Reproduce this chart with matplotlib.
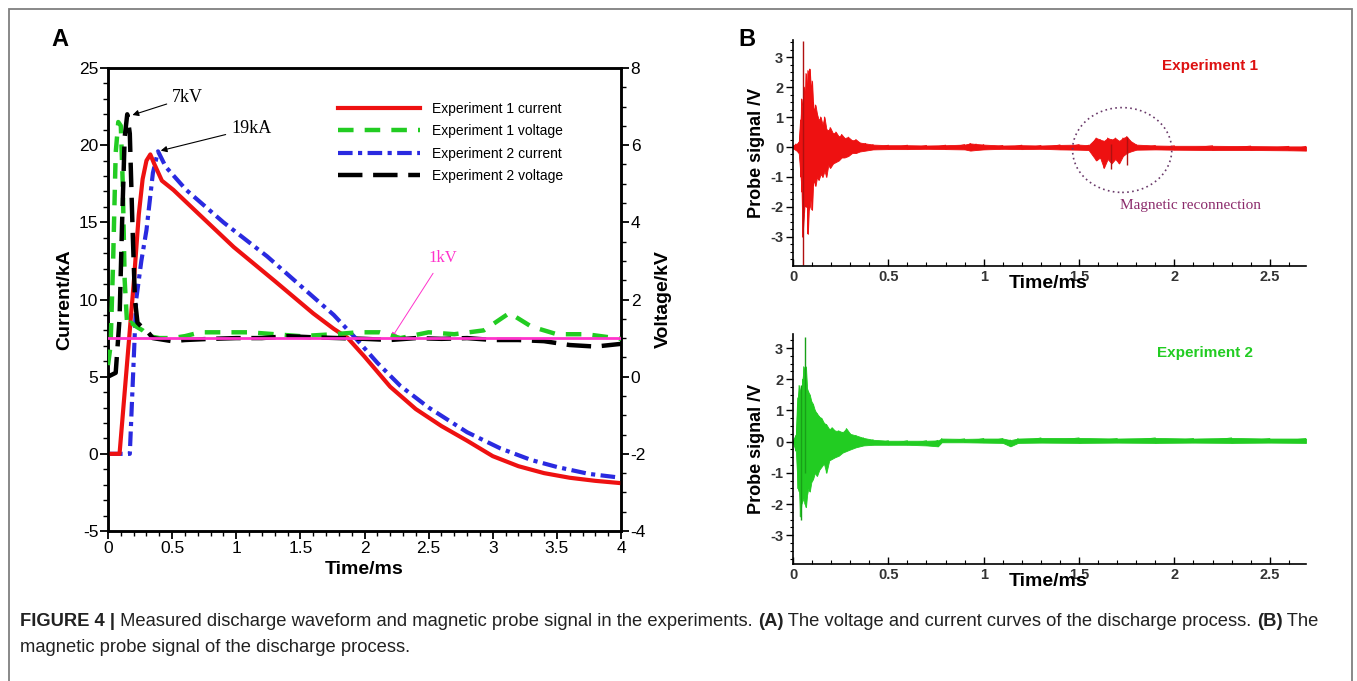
import numpy as np
import matplotlib
matplotlib.use("Agg")
import matplotlib.pyplot as plt
from matplotlib.patches import Ellipse, Rectangle
from matplotlib.ticker import MultipleLocator

plt.rcParams['font.family'] = ['Liberation Sans', 'DejaVu Sans']
plt.rcParams['axes.unicode_minus'] = False

# ---- panel A: discharge current (kA) and voltage (kV) ----
t_cur1 = [0, 0.09, 0.15, 0.2, 0.24, 0.27, 0.3, 0.33, 0.36, 0.42, 0.51, 0.7, 0.98, 1.3, 1.6, 1.76, 1.87,
          2.0, 2.2, 2.4, 2.6, 2.8, 3.0, 3.2, 3.4, 3.6, 3.8, 4.0]
i_cur1 = [0, 0, 6, 11, 15.5, 17.8, 19.0, 19.4, 18.8, 17.7, 17.1, 15.6, 13.4, 11.2, 9.1, 8.1, 7.5,
          6.3, 4.35, 2.9, 1.8, 0.85, -0.15, -0.8, -1.25, -1.55, -1.75, -1.9]

t_cur2 = [0, 0.17, 0.22, 0.26, 0.3, 0.35, 0.39, 0.45, 0.61, 0.9, 1.24, 1.5, 1.76, 1.93, 2.1, 2.28,
          2.5, 2.8, 3.06, 3.3, 3.5, 3.75, 4.0]
i_cur2 = [0, 0, 10, 12.5, 14.5, 18.2, 19.6, 18.6, 17.1, 15.0, 12.8, 10.9, 9.0, 7.5, 5.9, 4.4,
          3.0, 1.4, 0.35, -0.4, -0.85, -1.3, -1.55]

t_volt1 = [0, 0.02, 0.04, 0.06, 0.08, 0.1, 0.115, 0.13, 0.15, 0.18, 0.22, 0.27, 0.32, 0.4, 0.5, 0.6,
           0.72, 0.9, 1.1, 1.3, 1.5, 1.76, 1.95, 2.12, 2.28, 2.5, 2.7, 2.93, 3.13, 3.3, 3.5, 3.73, 4.0]
v_volt1 = [0.3, 0.8, 3.0, 5.8, 6.6, 6.5, 5.0, 2.5, 1.3, 1.4, 1.3, 1.2, 1.05, 1.0, 1.0, 1.05,
           1.15, 1.15, 1.15, 1.1, 1.05, 1.1, 1.15, 1.15, 1.0, 1.15, 1.1, 1.2, 1.65, 1.3, 1.1, 1.1, 0.98]

t_volt2 = [0, 0.06, 0.09, 0.11, 0.13, 0.15, 0.17, 0.19, 0.21, 0.23, 0.26, 0.3, 0.35, 0.5, 0.6, 0.8,
           1.0, 1.2, 1.4, 1.6, 1.8, 2.0, 2.2, 2.4, 2.6, 2.8, 3.0, 3.2, 3.4, 3.6, 3.8, 4.0]
v_volt2 = [0.0, 0.1, 1.5, 4.0, 6.2, 6.8, 6.3, 4.0, 2.0, 1.4, 1.3, 1.2, 1.0, 0.92, 0.95, 0.98,
           1.0, 1.0, 1.05, 1.02, 1.0, 0.98, 0.95, 1.0, 0.98, 1.0, 0.95, 0.95, 0.92, 0.82, 0.78, 0.85]

ref_kv = 1.0
labels_A = ["Experiment 1 current", "Experiment 1 voltage", "Experiment 2 current", "Experiment 2 voltage"]

# ---- panel B: magnetic probe signal envelopes (V) ----
t_env1 = [0, 0.015, 0.03, 0.04, 0.045, 0.05, 0.058, 0.062, 0.068, 0.072, 0.078, 0.083, 0.088, 0.094,
          0.1, 0.105, 0.11, 0.118, 0.126, 0.135, 0.145, 0.155, 0.165, 0.175, 0.185, 0.195, 0.21, 0.225,
          0.24, 0.255, 0.27, 0.29, 0.31, 0.33, 0.35, 0.38, 0.42, 0.5, 0.6, 0.7, 0.8, 0.9, 0.93, 0.96,
          1.0, 1.1, 1.2, 1.3, 1.4, 1.5, 1.55, 1.59, 1.61, 1.63, 1.65, 1.67, 1.69, 1.71, 1.73, 1.75,
          1.77, 1.8, 1.9, 2.0, 2.2, 2.4, 2.6, 2.69]
up1 = [0.05, 0.1, 0.15, 0.9, 1.6, 1.3, 2.0, 1.6, 2.45, 1.8, 2.55, 2.0, 2.6, 1.9,
       2.2, 1.5, 1.2, 1.4, 1.1, 0.9, 1.0, 0.75, 1.0, 0.6, 0.55, 0.65, 0.45, 0.5,
       0.35, 0.42, 0.3, 0.33, 0.22, 0.25, 0.15, 0.12, 0.08, 0.06, 0.06, 0.05, 0.06, 0.08, 0.12, 0.1,
       0.08, 0.05, 0.06, 0.05, 0.07, 0.08, 0.06, 0.3, 0.25, 0.2, 0.3, 0.25, 0.3, 0.2, 0.3, 0.35,
       0.2, 0.08, 0.05, 0.04, 0.04, 0.03, 0.02, 0.02]
lo1 = [-0.05, -0.1, -0.2, -1.0, -1.5, -3.0, -2.2, -1.8, -2.0, -1.5, -2.9, -2.1, -2.0, -1.6,
       -2.1, -1.3, -1.1, -1.3, -1.0, -1.1, -0.9, -1.0, -0.8, -1.0, -0.6, -0.7, -0.55, -0.5,
       -0.45, -0.35, -0.35, -0.3, -0.2, -0.2, -0.15, -0.12, -0.08, -0.07, -0.07, -0.06, -0.07, -0.08, -0.12, -0.1,
       -0.08, -0.06, -0.07, -0.06, -0.08, -0.09, -0.1, -0.45, -0.35, -0.7, -0.4, -0.55, -0.4, -0.55, -0.3, -0.2,
       -0.15, -0.09, -0.08, -0.09, -0.1, -0.1, -0.11, -0.12]
spike_t1 = [0.053, 1.665, 1.75]
spike_hi1 = [3.55, 0.1, 0.32]
spike_lo1 = [-3.95, -0.72, -0.6]

t_env2 = [0, 0.015, 0.025, 0.032, 0.038, 0.044, 0.05, 0.056, 0.062, 0.068, 0.074, 0.08, 0.088, 0.096,
          0.105, 0.115, 0.126, 0.138, 0.15, 0.162, 0.175, 0.19, 0.205, 0.22, 0.24, 0.26, 0.28, 0.3,
          0.33, 0.37, 0.42, 0.5, 0.6, 0.7, 0.76, 0.78, 0.9, 1.0, 1.1, 1.14, 1.18, 1.3, 1.5, 1.7,
          1.9, 2.1, 2.3, 2.5, 2.69]
up2 = [0.05, 0.2, 1.4, 1.8, 1.6, 1.7, 2.0, 2.4, 2.2, 2.4, 1.7, 1.6, 1.5, 1.3,
       1.2, 1.0, 0.9, 0.8, 0.75, 0.6, 0.55, 0.4, 0.45, 0.35, 0.35, 0.3, 0.42, 0.25,
       0.2, 0.12, 0.06, 0.03, 0.03, 0.03, 0.04, 0.1, 0.09, 0.1, 0.1, 0.05, 0.1, 0.12, 0.12, 0.1,
       0.12, 0.1, 0.12, 0.1, 0.1]
lo2 = [-0.05, -0.3, -1.5, -1.6, -2.4, -2.0, -1.9, -1.8, -2.0, -2.1, -1.7, -1.5, -1.6, -1.3,
       -1.2, -1.0, -1.1, -0.9, -0.8, -0.7, -1.0, -0.6, -0.55, -0.5, -0.45, -0.35, -0.3, -0.25,
       -0.18, -0.12, -0.1, -0.1, -0.1, -0.12, -0.15, -0.02, -0.02, -0.03, -0.04, -0.15, -0.04, -0.03, -0.04, -0.03,
       -0.04, -0.03, -0.04, -0.03, -0.04]
spike_t2 = [0.04, 0.061]
spike_hi2 = [1.8, 3.35]
spike_lo2 = [-2.5, -1.0]

W, H = 1357, 681
fig = plt.figure(figsize=(W / 100, H / 100), dpi=100)


def fx(px):
    return px / W


def fy(py):
    return 1 - py / H


# outer frame
fig.patches.append(Rectangle((fx(9), -0.02), fx(1352 - 9), fy(9) + 0.02, transform=fig.transFigure,
                             fill=False, edgecolor='#7f7f7f', linewidth=1.3))

# ---------------- panel A ----------------
ax = fig.add_axes([fx(108), fy(531), fx(621 - 108), fy(68) - fy(531)])
ax2 = ax.twinx()
RED, GREEN, BLUE, MAG = '#ee1111', '#22cc22', '#2a2ae0', '#ff33cc'

h1, = ax.plot(t_cur1, i_cur1, color=RED, lw=3.0, zorder=4)
h3, = ax.plot(t_cur2, i_cur2, color=BLUE, lw=3.0, dashes=(3.5, 1.3, 1.0, 1.3), zorder=3)
h2, = ax2.plot(t_volt1, v_volt1, color=GREEN, lw=3.2, dashes=(3.5, 2.5), zorder=3)
h4, = ax2.plot(t_volt2, v_volt2, color='black', lw=3.2, dashes=(5.5, 2.4), zorder=3)
ax2.axhline(ref_kv, color=MAG, lw=2.0, zorder=5)

ax.set_xlim(0, 4)
ax.set_ylim(-5, 25)
ax2.set_ylim(-4, 8)
ax.xaxis.set_major_locator(MultipleLocator(0.5))
ax.xaxis.set_minor_locator(MultipleLocator(0.1))
ax.yaxis.set_major_locator(MultipleLocator(5))
ax.yaxis.set_minor_locator(MultipleLocator(1))
ax2.yaxis.set_major_locator(MultipleLocator(2))
ax2.yaxis.set_minor_locator(MultipleLocator(0.5))
ax.set_xticks(np.arange(0, 4.01, 0.5))
ax.set_xticklabels(['0', '0.5', '1', '1.5', '2', '2.5', '3', '3.5', '4'])
for a in (ax, ax2):
    a.tick_params(which='major', direction='out', length=6, width=1.3, labelsize=12.5, pad=1)
    a.tick_params(which='minor', direction='out', length=3.5, width=1.0)
    for s in a.spines.values():
        s.set_linewidth(1.8)
ax.tick_params(top=False, which='both')

ax.text(0.5, -0.065, "Time/ms", transform=ax.transAxes, ha='center', va='top',
        fontsize=14, fontweight='bold')
ax.set_ylabel("Current/kA", fontsize=14, fontweight='bold', labelpad=4)
ax2.set_ylabel("Voltage/kV", fontsize=14, fontweight='bold', labelpad=6)

leg = ax.legend([h1, h2, h3, h4], labels_A, loc='upper left',
                bbox_to_anchor=(fx(338), fy(102)), bbox_transform=fig.transFigure,
                frameon=False, fontsize=10, handlelength=5.9, handletextpad=0.9,
                labelspacing=0.6, borderpad=0, borderaxespad=0)

ax.annotate("7kV", xy=(0.17, 21.9), xytext=(0.5, 23.1), fontsize=13, family='Liberation Serif',
            va='center', arrowprops=dict(arrowstyle='-|>', color='black', lw=0.8, mutation_scale=9))
ax.annotate("19kA", xy=(0.39, 19.6), xytext=(0.96, 21.1), fontsize=13, family='Liberation Serif',
            va='center', arrowprops=dict(arrowstyle='-|>', color='black', lw=0.8, mutation_scale=9))
ax.annotate("1kV", xy=(2.21, 7.5), xytext=(2.5, 12.7), fontsize=12, family='Liberation Serif',
            color=MAG, va='center', arrowprops=dict(arrowstyle='-|>', color=MAG, lw=0.7, mutation_scale=8,
                                                    shrinkA=4, shrinkB=0))

fig.text(fx(60), fy(40), "A", fontsize=17, fontweight='bold', ha='center', va='center')
fig.text(fx(747), fy(40), "B", fontsize=17, fontweight='bold', ha='center', va='center')


# ---------------- panel B ----------------
def probe_axes(rect, t_env, up, lo, sp_t, sp_hi, sp_lo, color, dark, ylim):
    axb = fig.add_axes(rect)
    axb.fill_between(t_env, lo, up, color=color, lw=0.6, edgecolor=color)
    # zigzag trace between the read upper and lower extremes
    zig_t = [v for v in t_env for _ in (0, 1)]
    zig_v = [v for pair in zip(up, lo) for v in pair]
    axb.plot(zig_t, zig_v, color=color, lw=0.7)
    axb.vlines(sp_t, sp_lo, sp_hi, color=dark, lw=1.0)
    axb.set_xlim(0, 2.69)
    axb.set_ylim(*ylim)
    axb.spines['top'].set_visible(False)
    axb.spines['right'].set_visible(False)
    for s in ('left', 'bottom'):
        axb.spines[s].set_linewidth(1.2)
    axb.xaxis.set_minor_locator(MultipleLocator(0.1))
    axb.set_xticks([0, 0.5, 1, 1.5, 2, 2.5])
    axb.set_xticklabels(['0', '0.5', '1', '1.5', '2', '2.5'])
    axb.set_yticks([-3, -2, -1, 0, 1, 2, 3])
    axb.set_yticklabels(['-3', '-2', '-1', '0', '1', '2', '3'])
    axb.yaxis.set_minor_locator(MultipleLocator(0.25))
    axb.tick_params(axis='x', which='major', direction='in', length=5, width=1.0, labelsize=10.5, pad=3)
    axb.tick_params(axis='x', which='minor', direction='in', length=3, width=0.8)
    axb.tick_params(axis='y', which='major', direction='out', length=5, width=1.0, labelsize=10.5, pad=2)
    axb.tick_params(axis='y', which='minor', direction='out', length=2.5, width=0.8)
    for lb in axb.get_xticklabels() + axb.get_yticklabels():
        lb.set_fontweight('bold')
        lb.set_color('#333333')
    axb.set_ylabel("Probe signal /V", fontsize=13, fontweight='bold', labelpad=4)
    return axb


axt = probe_axes([fx(793), fy(266), fx(1306 - 793), fy(40) - fy(266)], t_env1, up1, lo1,
                 spike_t1, spike_hi1, spike_lo1, RED, '#b01010', (-3.97, 3.57))
axb2 = probe_axes([fx(793), fy(564), fx(1306 - 793), fy(334) - fy(564)], t_env2, up2, lo2,
                  spike_t2, spike_hi2, spike_lo2, GREEN, '#18a018', (-3.92, 3.45))

fig.text(fx(1048), fy(284), "Time/ms", fontsize=14, fontweight='bold', ha='center', va='center')
fig.text(fx(1048), fy(581), "Time/ms", fontsize=14, fontweight='bold', ha='center', va='center')

fig.text(fx(1210), fy(66), "Experiment 1", color='#dd1111', fontsize=11, fontweight='bold',
         ha='center', va='center')
fig.text(fx(1205), fy(353), "Experiment 2", color=GREEN, fontsize=11, fontweight='bold',
         ha='center', va='center')
axt.add_patch(Ellipse((1.726, -0.1), 0.52, 2.83, fill=False, edgecolor='#6a3a6a', lw=1.2,
                      linestyle=(0, (1, 2))))
fig.text(fx(1190), fy(205), "Magnetic reconnection", color='#8b2a6b', fontsize=11,
         family='Liberation Serif', ha='center', va='center')

# ---------------- caption ----------------
fig.canvas.draw()
renderer = fig.canvas.get_renderer()


def caption_line(pieces, x0, y, size):
    x = x0
    for txt, bold in pieces:
        t = fig.text(fx(x), fy(y), txt, fontsize=size, fontweight='bold' if bold else 'normal',
                     ha='left', va='center', color='#222222')
        bb = t.get_window_extent(renderer)
        x += bb.width


line1 = [("FIGURE 4 |", True), (" Measured discharge waveform and magnetic probe signal in the experiments. ", False),
         ("(A)", True), (" The voltage and current curves of the discharge process. ", False),
         ("(B)", True), (" The", False)]
line2 = [("magnetic probe signal of the discharge process.", False)]
caption_line(line1, 20, 621, 13.2)
caption_line(line2, 20, 647, 13.2)

fig.savefig("out.png", dpi=100)
